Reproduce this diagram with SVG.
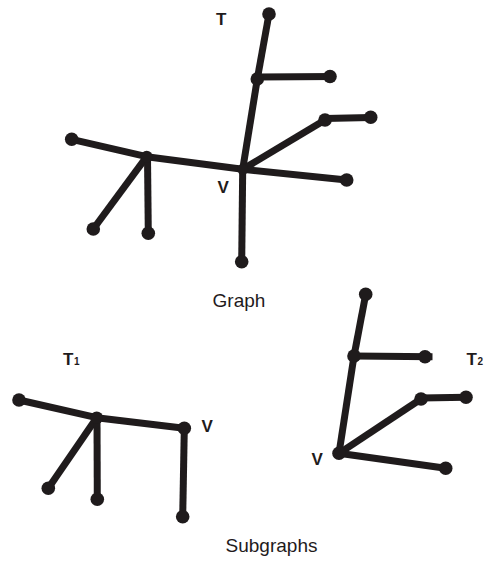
<svg xmlns="http://www.w3.org/2000/svg" width="487" height="563" viewBox="0 0 487 563">
<style>
.e{stroke:#1f1b1c;stroke-width:7;fill:none;stroke-linecap:butt}
.n{fill:#1f1b1c}
.lb{font-family:"Liberation Sans",Arial,sans-serif;font-weight:bold;font-size:17px;fill:#1f1b1c}
.sub{font-family:"Liberation Sans",Arial,sans-serif;font-weight:bold;font-size:10px;fill:#1f1b1c}
.cap{font-family:"Liberation Sans",Arial,sans-serif;font-size:19px;fill:#1f1b1c;text-anchor:middle}
</style>
<g id="connectors">
<line class="e" x1="269" y1="14" x2="257.3" y2="79"/>
<line class="e" x1="257.3" y1="79" x2="242.7" y2="169.3"/>
<line class="e" x1="257.3" y1="77" x2="335" y2="76.5"/>
<line class="e" x1="242.7" y1="169.3" x2="325" y2="120"/>
<line class="e" x1="325" y1="118.5" x2="370.7" y2="117.5"/>
<line class="e" x1="242.7" y1="169.3" x2="346.7" y2="180"/>
<line class="e" x1="242.7" y1="169.3" x2="241.7" y2="261.7"/>
<line class="e" x1="242.7" y1="169.3" x2="146.7" y2="156.7"/>
<line class="e" x1="146.7" y1="156.7" x2="71.7" y2="139.3"/>
<line class="e" x1="146.7" y1="156.7" x2="93.3" y2="229"/>
<line class="e" x1="147.5" y1="156.7" x2="148.3" y2="233.3"/>
<line class="e" x1="19" y1="400" x2="96.7" y2="417.7"/>
<line class="e" x1="96.7" y1="417.7" x2="184.3" y2="428.3"/>
<line class="e" x1="96.7" y1="417.7" x2="48.3" y2="488.3"/>
<line class="e" x1="97" y1="417.7" x2="97.3" y2="499.3"/>
<line class="e" x1="184.3" y1="428.3" x2="182.7" y2="516.7"/>
<line class="e" x1="365.7" y1="294.3" x2="354" y2="356"/>
<line class="e" x1="354" y1="356" x2="339" y2="453.3"/>
<line class="e" x1="354" y1="356" x2="432.5" y2="356.7"/>
<line class="e" x1="339" y1="453.3" x2="421" y2="399"/>
<line class="e" x1="421" y1="398" x2="466" y2="397.3"/>
<line class="e" x1="339" y1="453.3" x2="445.7" y2="468.3"/>
</g>
<g id="graph-T">
<circle class="n" cx="269" cy="14" r="6.8"/>
<circle class="n" cx="257.3" cy="79" r="6.8"/>
<circle class="n" cx="330" cy="76.5" r="6.8"/>
<circle class="n" cx="325" cy="120" r="6.8"/>
<circle class="n" cx="370.7" cy="117.3" r="6.8"/>
<circle class="n" cx="242.7" cy="169.3" r="5.5"/>
<circle class="n" cx="346.7" cy="180" r="6.8"/>
<circle class="n" cx="241.7" cy="261.7" r="6.8"/>
<circle class="n" cx="146.7" cy="156.7" r="6"/>
<circle class="n" cx="71.7" cy="139.3" r="6.8"/>
<circle class="n" cx="93.3" cy="229" r="6.8"/>
<circle class="n" cx="148.3" cy="233.3" r="6.8"/>
<text class="lb" x="216" y="25">T</text>
<text class="lb" x="217.5" y="193">V</text>
</g>
<g id="subgraph-T1">
<circle class="n" cx="19" cy="400" r="6.8"/>
<circle class="n" cx="96.7" cy="417.7" r="6.3"/>
<circle class="n" cx="184.3" cy="428.3" r="6.8"/>
<circle class="n" cx="48.3" cy="488.3" r="6.8"/>
<circle class="n" cx="97.3" cy="499.3" r="6.8"/>
<circle class="n" cx="182.7" cy="516.7" r="6.8"/>
<text class="lb" x="63" y="365">T</text>
<text class="sub" x="74" y="365">1</text>
<text class="lb" x="201.5" y="431.5">V</text>
</g>
<g id="subgraph-T2">
<circle class="n" cx="365.7" cy="294.3" r="6.8"/>
<circle class="n" cx="354" cy="356" r="6.8"/>
<circle class="n" cx="425" cy="356.7" r="6.8"/>
<circle class="n" cx="421" cy="399" r="6.8"/>
<circle class="n" cx="466" cy="397.3" r="6.8"/>
<circle class="n" cx="339" cy="453.3" r="6.8"/>
<circle class="n" cx="445.7" cy="468.3" r="6.8"/>
<text class="lb" x="311.5" y="465">V</text>
<text class="lb" x="466.5" y="365">T</text>
<text class="sub" x="477.5" y="365">2</text>
</g>
<g id="captions">
<text class="cap" x="239" y="306.5">Graph</text>
<text class="cap" x="271.5" y="551.5">Subgraphs</text>
</g>
</svg>
